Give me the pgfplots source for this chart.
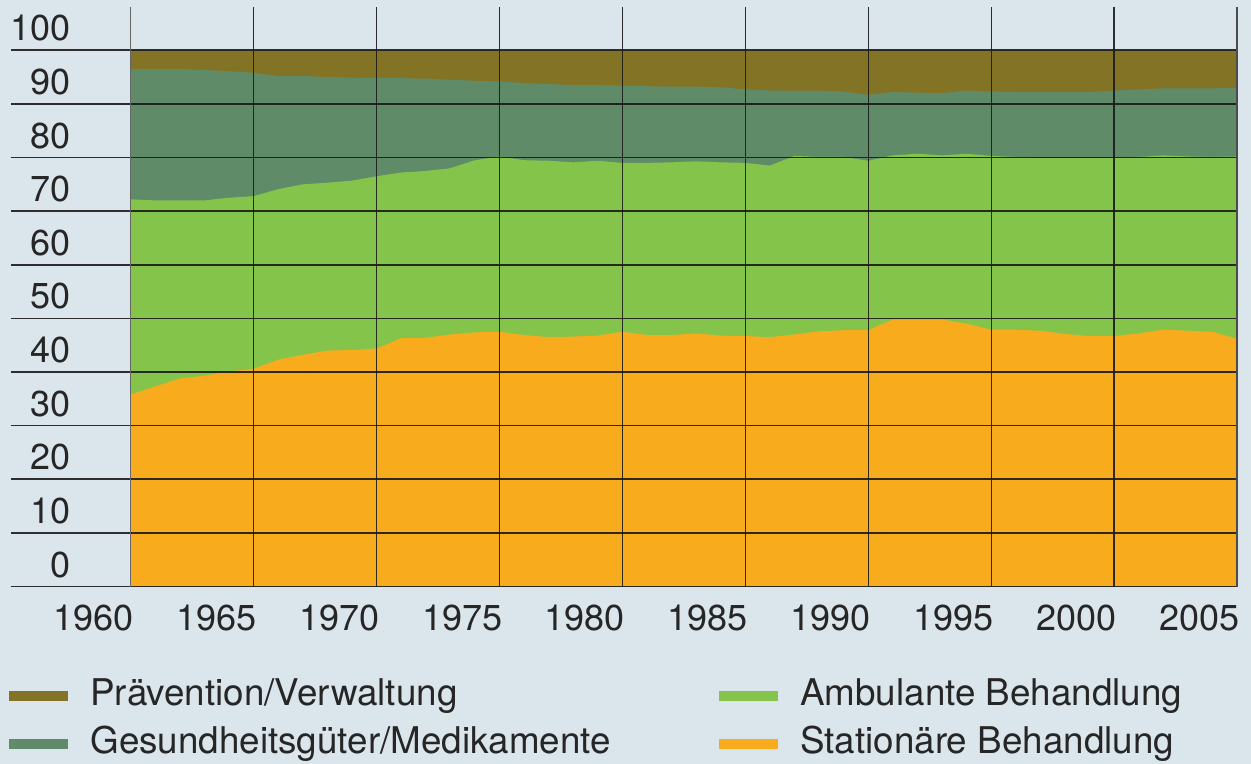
\documentclass[border=0pt]{standalone}
\usepackage{pgfplots}
\pgfplotsset{compat=1.18}
\usepackage{pgfplotstable}
\usepackage{fontspec}
\setmainfont{TeX Gyre Heros}
\definecolor{bg}{HTML}{DBE5EC}
\definecolor{praev}{HTML}{837425}
\definecolor{gesund}{HTML}{5F8B69}
\definecolor{ambul}{HTML}{84C44A}
\definecolor{station}{HTML}{F9AB1E}
\definecolor{txt}{HTML}{262626}
\definecolor{gridc}{HTML}{1A1A1A}

% cumulative shares (percent): stat = Stationaer, ambcum = + Ambulant,
% gescum = + Gesundheitsgueter, top = + Praevention
\pgfplotstableread{
year stat ambcum gescum top
1960 35.8 72.2 96.5 100
1961 37.3 72.0 96.5 100
1962 38.8 72.0 96.5 100
1963 39.3 72.0 96.3 100
1964 40.1 72.5 96.1 100
1965 40.6 72.8 95.8 100
1966 42.3 74.1 95.2 100
1967 43.2 75.0 95.2 100
1968 44.0 75.3 95.0 100
1969 44.1 75.7 94.9 100
1970 44.4 76.5 94.8 100
1971 46.3 77.2 94.8 100
1972 46.4 77.5 94.7 100
1973 47.0 78.0 94.5 100
1974 47.4 79.5 94.3 100
1975 47.5 80.2 94.2 100
1976 46.9 79.5 93.9 100
1977 46.5 79.4 93.7 100
1978 46.6 79.1 93.5 100
1979 46.8 79.4 93.5 100
1980 47.5 79.0 93.4 100
1981 46.9 79.0 93.3 100
1982 46.9 79.1 93.2 100
1983 47.2 79.3 93.2 100
1984 46.8 79.1 93.1 100
1985 46.7 79.0 92.7 100
1986 46.5 78.5 92.5 100
1987 47.0 80.3 92.5 100
1988 47.6 80.1 92.5 100
1989 47.8 80.1 92.3 100
1990 47.8 79.4 91.7 100
1991 49.8 80.4 92.2 100
1992 49.8 80.7 92.1 100
1993 49.8 80.4 92.0 100
1994 49.0 80.7 92.5 100
1995 47.9 80.3 92.3 100
1996 47.9 80.1 92.2 100
1997 47.7 79.9 92.2 100
1998 47.1 79.9 92.2 100
1999 46.7 79.9 92.2 100
2000 46.7 79.9 92.5 100
2001 47.2 80.1 92.7 100
2002 47.9 80.4 92.9 100
2003 47.7 80.2 92.9 100
2004 47.5 80.1 92.9 100
2005 46.2 80.2 93.0 100
}\data

\begin{document}
\begin{tikzpicture}
\path[use as bounding box, fill=bg] (-65.35pt,-88.75pt) rectangle (560.15pt,293.25pt);
\begin{axis}[
  scale only axis, width=553.15pt, height=289.55pt,
  xmin=1960, xmax=2005, ymin=0, ymax=108,
  clip=false,
  axis line style={draw=none},
  major tick length=0pt,
  xtick={1960,1965,1970,1975,1980,1985,1990,1995,2000,2005},
  xticklabels={1960,1965,1970,1975,1980,1985,1990,1995,2000,2005},
  ytick={0,10,20,30,40,50,60,70,80,90,100},
  yticklabels={0,10,20,30,40,50,60,70,80,90,100},
  tick label style={font=\fontsize{18}{21}\selectfont, text=txt, inner sep=0pt},
  xticklabel style={anchor=north east, xshift=1.5pt, yshift=-9pt},
  yticklabel style={anchor=south east, xshift=-29.85pt, yshift=4.25pt},
  legend columns=2, transpose legend,
  legend cell align=left,
  legend style={draw=none, fill=none, at={(0,0)}, anchor=north west,
    xshift=-60.85pt, yshift=-46.25pt, inner sep=0pt, outer sep=0pt,
    font=\fontsize{18.4}{21}\selectfont, text=txt,
    nodes={inner sep=0pt, text height=13.2pt, text depth=3.9pt},
    column sep=11pt, row sep=6.9pt,
    /tikz/column 2/.style={column sep=54pt}},
  legend image code/.code={\fill[#1] (0pt,-2.6pt) rectangle (29.7pt,2.6pt);},
]
\addplot[fill=praev, draw=none] table[x=year, y=top]{\data} \closedcycle;
\addlegendentry{Prävention/Verwaltung}
\addplot[fill=gesund, draw=none] table[x=year, y=gescum]{\data} \closedcycle;
\addlegendentry{Gesundheitsgüter/Medikamente}
\addplot[fill=ambul, draw=none] table[x=year, y=ambcum]{\data} \closedcycle;
\addlegendentry{Ambulante Behandlung}
\addplot[fill=station, draw=none] table[x=year, y=stat]{\data} \closedcycle;
\addlegendentry{Stationäre Behandlung}

\pgfplotsinvokeforeach{0,10,20,30,40,50,60,70,80,90,100}{
  \draw[gridc, line width=0.8pt, draw opacity=0.9] ([xshift=-59.85pt]axis cs:1960,#1) -- (axis cs:2005,#1);
}
\pgfplotsinvokeforeach{1965,1970,1975,1980,1985,1990,1995,2000}{
  \draw[gridc, line width=0.6pt, draw opacity=0.9] (axis cs:#1,0) -- (axis cs:#1,108);
}
\draw[black!60, line width=0.6pt] (axis cs:1960,0) -- (axis cs:1960,108);
\draw[black!70, line width=0.6pt] (axis cs:2005,0) -- (axis cs:2005,108);
\end{axis}
\end{tikzpicture}
\end{document}
